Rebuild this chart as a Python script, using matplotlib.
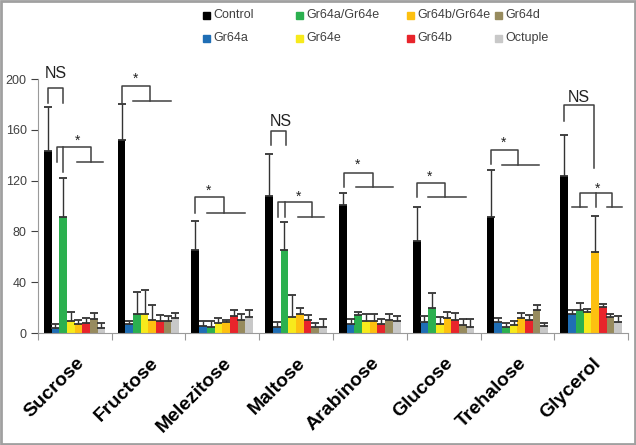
import matplotlib
matplotlib.use("Agg")
import matplotlib.pyplot as plt
import matplotlib.transforms as mtransforms
import numpy as np
from matplotlib.patches import Rectangle

plt.rcParams["font.family"] = ["Liberation Sans", "DejaVu Sans"]

categories = ["Sucrose", "Fructose", "Melezitose", "Maltose",
              "Arabinose", "Glucose", "Trehalose", "Glycerol"]
genotypes = ["Control", "Gr64a", "Gr64a/Gr64e", "Gr64e",
             "Gr64b/Gr64e", "Gr64b", "Gr64d", "Octuple"]
colors = ["#000000", "#1f6eb5", "#2bb04f", "#f7ea1c",
          "#fdc010", "#e8242b", "#978b5e", "#c8c8c8"]

# mean values per genotype (one entry per sugar)
control = [143.5, 152.0, 65.3, 107.5, 100.4, 72.6, 91.7, 123.5]
gr64a = [3.7, 6.8, 5.5, 5.0, 7.1, 8.4, 8.4, 14.7]
gr64a_e = [91.7, 14.7, 4.5, 65.0, 14.4, 19.4, 4.5, 18.4]
gr64e = [9.7, 14.7, 7.9, 12.3, 9.4, 6.8, 6.6, 16.8]
gr64b_e = [6.8, 10.5, 8.9, 14.7, 9.4, 11.5, 11.5, 63.4]
gr64b = [7.9, 9.7, 13.4, 10.5, 6.8, 10.5, 10.2, 20.5]
gr64d = [11.0, 9.4, 10.5, 4.5, 10.0, 6.3, 18.4, 12.3]
octuple = [3.7, 11.5, 12.3, 4.7, 9.2, 4.7, 5.8, 8.4]

# upper error bars
control_err = [34.2, 28.3, 22.5, 33.5, 10.2, 27.0, 36.3, 32.2]
gr64a_err = [3.6, 2.4, 3.7, 3.9, 3.7, 4.7, 3.6, 3.1]
gr64a_e_err = [30.3, 17.3, 5.2, 22.3, 2.4, 11.8, 3.6, 5.2]
gr64e_err = [7.1, 19.3, 3.6, 17.4, 5.6, 6.1, 2.6, 1.8]
gr64b_e_err = [3.2, 11.5, 1.3, 5.0, 5.6, 5.0, 4.2, 28.9]
gr64b_err = [4.1, 4.5, 4.4, 3.7, 4.5, 5.2, 4.0, 2.1]
gr64d_err = [5.0, 4.2, 4.7, 3.6, 5.0, 4.7, 3.9, 2.9]
octuple_err = [4.4, 4.5, 5.5, 6.3, 4.2, 6.1, 2.3, 5.2]

means = [control, gr64a, gr64a_e, gr64e, gr64b_e, gr64b, gr64d, octuple]
errs = [control_err, gr64a_err, gr64a_e_err, gr64e_err,
        gr64b_e_err, gr64b_err, gr64d_err, octuple_err]

# significance brackets: (group, polyline of (bar index, y))
brackets = [
    (0, [(0, 181), (0, 193), (2, 193), (2, 181)]),
    (0, [(1.16, 135), (1.16, 146.7), (5.6, 146.7), (5.6, 135)]),
    (0, [(2.03, 146.7), (2.03, 127)]),
    (0, [(3.76, 135), (7.19, 135)]),
    (1, [(0, 181.3), (0, 194.5), (3.76, 194.5), (3.76, 182.7)]),
    (1, [(1.53, 182.7), (6.5, 182.7)]),
    (2, [(0, 94.7), (0, 107), (3.72, 107), (3.72, 94.7)]),
    (2, [(1.56, 94.7), (6.46, 94.7)]),
    (3, [(0.25, 148), (0.25, 159), (2.25, 159), (2.25, 148)]),
    (3, [(1.2, 91.5), (1.2, 103.4), (5.6, 103.4), (5.6, 91.5)]),
    (3, [(2.07, 103.4), (2.07, 91.5)]),
    (3, [(3.8, 91.5), (7.16, 91.5)]),
    (4, [(0.13, 114.7), (0.13, 126), (3.87, 126), (3.87, 114.7)]),
    (4, [(1.7, 114.7), (6.56, 114.7)]),
    (5, [(0, 106.8), (0, 117.9), (3.67, 117.9), (3.67, 106.8)]),
    (5, [(1.46, 106.8), (6.4, 106.8)]),
    (6, [(0, 132.8), (0, 144), (3.6, 144), (3.6, 132)]),
    (6, [(1.45, 132), (6.35, 132)]),
    (7, [(0, 167), (0, 179.5), (3.85, 179.5), (3.85, 129.6)]),
    (7, [(2.04, 99.5), (2.04, 110.5), (6.17, 110.5), (6.17, 99.5)]),
    (7, [(4.1, 110.5), (4.1, 99.5)]),
    (7, [(1.0, 99.5), (3.0, 99.5)]),
    (7, [(5.5, 99.5), (7.5, 99.5)]),
]
sig_labels = [
    ("NS", 0, 1.0, 204), ("*", 0, 3.85, 151), ("*", 1, 1.84, 200),
    ("*", 2, 1.76, 112), ("NS", 3, 1.5, 166.5), ("*", 3, 3.8, 107.5),
    ("*", 4, 1.87, 132.7), ("*", 5, 1.72, 123.2), ("*", 6, 1.74, 149.5),
    ("NS", 7, 1.9, 185.6), ("*", 7, 4.3, 113.5),
]

W, H = 636, 445
fig = plt.figure(figsize=(W / 100, H / 100), dpi=100)
ax = fig.add_axes([37.7 / W, 1 - 333 / H, 590.4 / W, 254 / H])

width = 0.104
x = np.arange(len(categories))


def bx(g, j):
    return g + (j - 3.5) * width


for i, (name, m, e, c) in enumerate(zip(genotypes, means, errs, colors)):
    ax.bar(x + (i - 3.5) * width, m, width, color=c, label=name, zorder=2,
           yerr=[np.zeros(len(e)), e], ecolor="#333333",
           error_kw=dict(elinewidth=1.0, capsize=2.8, capthick=1.3))

for g, pts in brackets:
    ax.plot([bx(g, j) for j, _ in pts], [y for _, y in pts],
            color="#404040", lw=1.1, clip_on=False, zorder=3)
for txt, g, j, y in sig_labels:
    ax.text(bx(g, j), y, txt, ha="center", va="center", color="#222222",
            fontsize=11.5 if txt == "NS" else 10, clip_on=False)

ax.set_xlim(-0.5, len(categories) - 0.5)
ax.set_ylim(0, 200)
ax.set_yticks([0, 40, 80, 120, 160, 200])
ax.tick_params(axis="y", labelsize=9, colors="#404040", length=5, width=0.8,
               pad=3)
ax.set_xticks(x)
ax.set_xticklabels(categories, rotation=45, ha="right", va="center",
                   rotation_mode="anchor", fontsize=14, fontweight="bold")
ax.tick_params(axis="x", length=0, pad=20)
shift = mtransforms.ScaledTranslation(5 / 72, 0, fig.dpi_scale_trans)
for lab in ax.get_xticklabels():
    lab.set_transform(lab.get_transform() + shift)
ax.set_xticks(np.arange(len(categories) + 1) - 0.5, minor=True)
ax.tick_params(axis="x", which="minor", length=5, width=0.8, color="#9a9a9a")
for s in ["top", "right"]:
    ax.spines[s].set_visible(False)
for s in ["left", "bottom"]:
    ax.spines[s].set_color("#9a9a9a")
    ax.spines[s].set_linewidth(0.8)

# legend laid out like the spreadsheet chart: 2 rows x 4 columns
col_x = [203, 296, 407, 495]
row_y = [15, 38]
for i, (name, c) in enumerate(zip(genotypes, colors)):
    cx = col_x[i // 2]
    cy = row_y[i % 2]
    fig.patches.append(Rectangle(((cx) / W, 1 - (cy + 3.5) / H), 6.5 / W, 7 / H,
                                 transform=fig.transFigure, color=c))
    fig.text((cx + 10) / W, 1 - cy / H, name, fontsize=9, color="#404040",
             va="center", ha="left")

fig.patches.append(Rectangle((0.002, 0.003), 0.996, 0.994,
                             transform=fig.transFigure, fill=False,
                             edgecolor="#a0a0a0", lw=2))

fig.savefig("out.png", dpi=100)
